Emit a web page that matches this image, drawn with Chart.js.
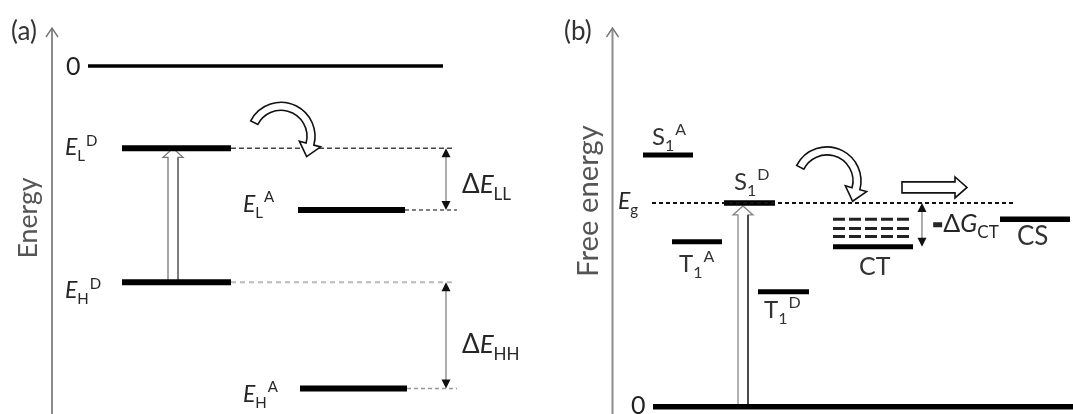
<!DOCTYPE html>
<html><head><meta charset="utf-8">
<script src="https://cdn.jsdelivr.net/npm/chart.js@4/dist/chart.umd.min.js"></script>
<style>
html,body{margin:0;padding:0;background:#fff;width:1073px;height:414px;overflow:hidden;}
#wrap{position:relative;width:1073px;height:414px;}
canvas{position:absolute;top:0;}
#ca{left:0;} #cb{left:530px;}
</style></head><body>
<div id="wrap"><canvas id="ca" width="530" height="414"></canvas><canvas id="cb" width="543" height="414"></canvas></div>
<script>
// ---------- data : panel (a) orbital energies (eV, vacuum = 0) ----------
const levelsA   = ['0', 'E_L^D', 'E_L^A', 'E_H^D', 'E_H^A'];
const energiesA = [0, -1.2, -2.1, -3.15, -4.7];
// ---------- data : panel (b) state free energies (eV, ground = 0) ----------
const statesB   = ['S1^A', 'S1^D', 'T1^A', 'T1^D', 'CT', 'CS', '0'];
const energiesB = [2.47, 2.0, 1.62, 1.13, 1.57, 1.84, 0];
const gapEg     = 2.0;
const ctManifold = [1.84, 1.75, 1.67];
const axisTitles = ['Energy', 'Free energy'];
const panelTags  = ['(a)', '(b)'];

// ---------- layout (positions / styles only) ----------
const FONT = 'Lato, Carlito, "Open Sans", sans-serif';
const layoutA = {
  x: [0, 530], y: [-5.07, 0.96],
  spans: [[88, 443], [122, 231], [298, 405], [122, 231], [300, 407]],
  widths: [3.5, 6, 6, 6, 6],
  ext: [null, [231, 455, '#444', [5, 3], 1.5], [405, 457, '#555', [4, 3], 1.5], [231, 455, '#bbb', [5, 4], 2], [407, 457, '#999', [4, 3], 1.5]]
};
const layoutB = {
  x: [530, 1073], y: [-0.07, 3.99],
  spans: [[643, 693], [724, 775], [672, 722], [758, 809], [833, 913], [1000, 1070], [653, 1073]],
  widths: [5, 5.5, 5, 5, 5, 5.5, 5.5],
  eg: [652, 1015], ct: [833, 913]
};

function lineDs(x0, x1, e, color, width, dash) {
  return { data: [{ x: x0, y: e }, { x: x1, y: e }], showLine: true, borderColor: color, borderWidth: width,
    borderDash: dash || [], borderCapStyle: 'butt', pointRadius: 0, pointHoverRadius: 0, fill: false, clip: false };
}

function rich(ctx, x, y, parts, base, color) {
  const col = color || '#262626';
  ctx.fillStyle = col; ctx.strokeStyle = col; ctx.textBaseline = 'alphabetic'; ctx.textAlign = 'left';
  let cx = x;
  for (const p of parts) {
    const small = p.s === 'sub' || p.s === 'sup';
    const size = small ? Math.round(base * 0.66) : base;
    ctx.font = `${p.i ? 'italic ' : ''}${p.w || 400} ${size}px ${FONT}`;
    const dy = p.s === 'sub' ? base * 0.26 : p.s === 'sup' ? -base * 0.42 : 0;
    ctx.fillText(p.t, cx + (p.dx || 0), y + dy + (p.dy || 0));
    if (p.k) { ctx.lineWidth = p.k; ctx.strokeText(p.t, cx + (p.dx || 0), y + dy + (p.dy || 0)); }
    cx += ctx.measureText(p.t).width + (p.dx || 0) + (p.gap || 0);
  }
}
function fitRotated(ctx, text, cx, cy, targetW, color) {
  ctx.save();
  ctx.font = `400 26px ${FONT}`;
  const s = 26 * targetW / ctx.measureText(text).width;
  ctx.font = `400 ${s.toFixed(1)}px ${FONT}`;
  ctx.translate(cx, cy); ctx.rotate(-Math.PI / 2);
  ctx.fillStyle = color; ctx.textAlign = 'center'; ctx.textBaseline = 'middle';
  ctx.fillText(text, 0, 0);
  ctx.restore();
}
function axisArrow(ctx, x, top, bottom) {
  ctx.save();
  ctx.strokeStyle = '#8c8c8c'; ctx.lineWidth = 2;
  ctx.beginPath(); ctx.moveTo(x, bottom); ctx.lineTo(x, top + 1); ctx.stroke();
  ctx.strokeStyle = '#777'; ctx.lineWidth = 1.4;
  ctx.beginPath(); ctx.moveTo(x - 6, top + 9); ctx.lineTo(x, top); ctx.lineTo(x + 6, top + 9); ctx.stroke();
  ctx.restore();
}
function doubleArrow(ctx, x, y1, y2) {
  ctx.save();
  ctx.strokeStyle = '#777'; ctx.lineWidth = 1.2;
  ctx.beginPath(); ctx.moveTo(x, y1 + 8); ctx.lineTo(x, y2 - 8); ctx.stroke();
  ctx.fillStyle = '#111';
  ctx.beginPath(); ctx.moveTo(x, y1); ctx.lineTo(x - 4.5, y1 + 9); ctx.lineTo(x + 4.5, y1 + 9); ctx.closePath(); ctx.fill();
  ctx.beginPath(); ctx.moveTo(x, y2); ctx.lineTo(x - 4.5, y2 - 9); ctx.lineTo(x + 4.5, y2 - 9); ctx.closePath(); ctx.fill();
  ctx.restore();
}
function hollowUp(ctx, xl, xr, yBottom, yTip, colL, colR) {
  const base = yTip + 9, mid = (xl + xr) / 2;
  ctx.save();
  ctx.beginPath();
  ctx.moveTo(xl, yBottom); ctx.lineTo(xl, base); ctx.lineTo(xl - 5, base); ctx.lineTo(mid, yTip);
  ctx.lineTo(xr + 5, base); ctx.lineTo(xr, base); ctx.lineTo(xr, yBottom);
  ctx.fillStyle = '#fff'; ctx.fill();
  ctx.strokeStyle = colL; ctx.lineWidth = 1.3; ctx.stroke();
  ctx.strokeStyle = colR; ctx.beginPath(); ctx.moveTo(xr, yBottom); ctx.lineTo(xr, base); ctx.stroke();
  ctx.restore();
}
function curvedArrow(ctx, cx, cy, r, w, a0deg, a1deg, headHalf, headLen) {
  const a0 = a0deg * Math.PI / 180, a1 = a1deg * Math.PI / 180;
  const ro = r + w / 2, ri = r - w / 2;
  const ex = Math.cos(a1), ey = Math.sin(a1), tx = -Math.sin(a1), ty = Math.cos(a1);
  ctx.save();
  ctx.beginPath();
  ctx.arc(cx, cy, ro, a0, a1, false);
  ctx.lineTo(cx + (r + headHalf) * ex, cy + (r + headHalf) * ey);
  ctx.lineTo(cx + r * ex + headLen * tx, cy + r * ey + headLen * ty);
  ctx.lineTo(cx + (r - headHalf) * ex, cy + (r - headHalf) * ey);
  ctx.arc(cx, cy, ri, a1, a0, true);
  ctx.closePath();
  ctx.fillStyle = '#fff'; ctx.fill();
  ctx.strokeStyle = '#111'; ctx.lineWidth = 1.6; ctx.stroke();
  ctx.restore();
}
function baseOptions(L) {
  return {
    responsive: false, animation: false, events: [],
    layout: { padding: 0 },
    plugins: { legend: { display: false }, tooltip: { enabled: false } },
    scales: {
      x: { type: 'linear', min: L.x[0], max: L.x[1], display: false },
      y: { type: 'linear', min: L.y[0], max: L.y[1], display: false }
    }
  };
}

// ---------------- panel (a) ----------------
const dsA = [];
energiesA.forEach((e, i) => {
  const x = layoutA.ext[i];
  if (x) dsA.push(lineDs(x[0], x[1], e, x[2], x[4], x[3]));
});
energiesA.forEach((e, i) => dsA.push(lineDs(layoutA.spans[i][0], layoutA.spans[i][1], e, '#000', layoutA.widths[i])));

const pluginA = {
  id: 'decorA',
  beforeDatasetsDraw(chart) {
    const ctx = chart.ctx, Y = v => chart.scales.y.getPixelForValue(v);
    hollowUp(ctx, 168, 178, Y(energiesA[3]) - 2, Y(energiesA[1]), '#777', '#666');
  },
  afterDatasetsDraw(chart) {
    const ctx = chart.ctx, Y = v => chart.scales.y.getPixelForValue(v);
    axisArrow(ctx, 52, 28, 414);
    fitRotated(ctx, axisTitles[0], 28, 218, 81, '#555');
    rich(ctx, 11, 40, [{ t: panelTags[0] }], 26, '#333');
    rich(ctx, 66, Y(energiesA[0]) + 9, [{ t: '0' }], 25, '#222');
    rich(ctx, 65, Y(energiesA[1]) + 7, [{ t: 'E', i: 1 }, { t: 'L', s: 'sub', gap: 1 }, { t: 'D', s: 'sup' }], 23);
    rich(ctx, 243, Y(energiesA[2]) + 2, [{ t: 'E', i: 1 }, { t: 'L', s: 'sub', gap: 1 }, { t: 'A', s: 'sup' }], 23);
    rich(ctx, 65, Y(energiesA[3]) + 16, [{ t: 'E', i: 1 }, { t: 'H', s: 'sub', gap: 1 }, { t: 'D', s: 'sup' }], 23);
    rich(ctx, 243, Y(energiesA[4]) + 13, [{ t: 'E', i: 1 }, { t: 'H', s: 'sub', gap: 1 }, { t: 'A', s: 'sup' }], 23);
    doubleArrow(ctx, 446, Y(energiesA[1]), Y(energiesA[2]));
    doubleArrow(ctx, 446, Y(energiesA[3]), Y(energiesA[4]));
    rich(ctx, 462, (Y(energiesA[1]) + Y(energiesA[2])) / 2 + 14, [{ t: 'Δ' }, { t: 'E', i: 1 }, { t: 'LL', s: 'sub' }], 26);
    rich(ctx, 462, (Y(energiesA[3]) + Y(energiesA[4])) / 2 + 18, [{ t: 'Δ' }, { t: 'E', i: 1 }, { t: 'HH', s: 'sub' }], 26);
    curvedArrow(ctx, 281, Y(energiesA[1]) - 12, 30, 8, 207, 375, 11, 13);
  }
};
new Chart(document.getElementById('ca'), { type: 'scatter', data: { datasets: dsA }, options: baseOptions(layoutA), plugins: [pluginA] });

// ---------------- panel (b) ----------------
const dsB = [];
dsB.push(lineDs(layoutB.eg[0], layoutB.eg[1], gapEg, '#111', 2, [4, 3]));
ctManifold.forEach(e => dsB.push(lineDs(layoutB.ct[0], layoutB.ct[1], e, '#222', 3, [12, 4])));
energiesB.forEach((e, i) => dsB.push(lineDs(layoutB.spans[i][0], layoutB.spans[i][1], e, '#000', layoutB.widths[i])));

const pluginB = {
  id: 'decorB',
  beforeDatasetsDraw(chart) {
    const ctx = chart.ctx, Y = v => chart.scales.y.getPixelForValue(v), X = v => chart.scales.x.getPixelForValue(v);
    hollowUp(ctx, X(738), X(748), Y(energiesB[6]), Y(energiesB[1]) + 3, '#888', '#111');
  },
  afterDatasetsDraw(chart) {
    const ctx = chart.ctx, Y = v => chart.scales.y.getPixelForValue(v), X = v => chart.scales.x.getPixelForValue(v);
    axisArrow(ctx, X(612.5), 28, 414);
    fitRotated(ctx, axisTitles[1], X(589), 201, 152, '#555');
    rich(ctx, X(564), 40, [{ t: panelTags[1] }], 26, '#333');
    rich(ctx, X(652), Y(energiesB[0]) - 10, [{ t: 'S' }, { t: '1', s: 'sub', gap: 1 }, { t: 'A', s: 'sup' }], 24, '#333');
    rich(ctx, X(734), Y(energiesB[1]) - 13, [{ t: 'S' }, { t: '1', s: 'sub', gap: 1 }, { t: 'D', s: 'sup' }], 24, '#333');
    rich(ctx, X(618), Y(gapEg) + 6, [{ t: 'E', i: 1 }, { t: 'g', s: 'sub' }], 23);
    rich(ctx, X(679), Y(energiesB[2]) + 30, [{ t: 'T' }, { t: '1', s: 'sub', gap: 1 }, { t: 'A', s: 'sup' }], 24, '#333');
    rich(ctx, X(764), Y(energiesB[3]) + 26, [{ t: 'T' }, { t: '1', s: 'sub', gap: 1 }, { t: 'D', s: 'sup' }], 24, '#333');
    rich(ctx, X(859), Y(energiesB[4]) + 28, [{ t: 'CT' }], 25, '#333');
    rich(ctx, X(1017), Y(energiesB[5]) + 26, [{ t: 'CS' }], 26, '#333');
    rich(ctx, X(631), Y(energiesB[6]) + 7, [{ t: '0' }], 25, '#222');
    doubleArrow(ctx, X(922), Y(gapEg), Y(energiesB[4]));
    rich(ctx, X(933), Y(energiesB[4]) - 15, [{ t: '-', w: 700, k: 2.5, gap: 1 }, { t: 'Δ' }, { t: 'G', i: 1 }, { t: 'CT', s: 'sub' }], 25);
    curvedArrow(ctx, X(827), Y(gapEg) - 22, 30, 8, 207, 375, 11, 13);
    // straight hollow arrow (charge separation)
    const yc = Y(gapEg) - 15.5;
    ctx.save();
    ctx.beginPath();
    ctx.moveTo(X(902), yc - 5.5); ctx.lineTo(X(955), yc - 5.5); ctx.lineTo(X(955), yc - 10.5); ctx.lineTo(X(967), yc);
    ctx.lineTo(X(955), yc + 10.5); ctx.lineTo(X(955), yc + 5.5); ctx.lineTo(X(902), yc + 5.5); ctx.closePath();
    ctx.fillStyle = '#fff'; ctx.fill(); ctx.strokeStyle = '#111'; ctx.lineWidth = 1.6; ctx.stroke();
    ctx.restore();
  }
};
new Chart(document.getElementById('cb'), { type: 'scatter', data: { datasets: dsB }, options: baseOptions(layoutB), plugins: [pluginB] });
</script>
</body></html>
